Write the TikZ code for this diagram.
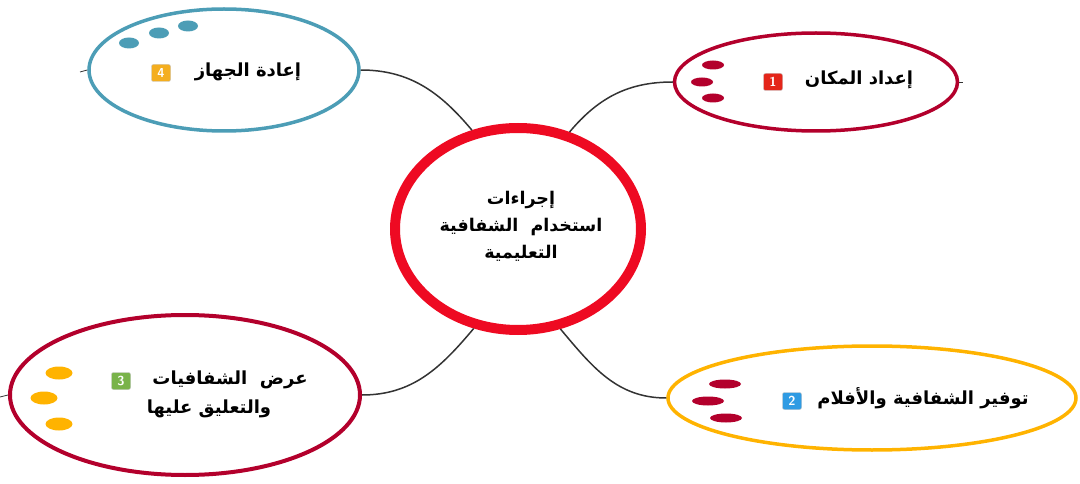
\documentclass[tikz,border=0pt]{standalone}
\usepackage{fontspec}
\usetikzlibrary{shapes.geometric}
\TeXXeTstate=1
\newfontfamily\arabicfont[Script=Arabic]{DejaVu Sans}
\definecolor{cred}{HTML}{EE0A22}
\definecolor{dred}{HTML}{B3002C}
\definecolor{cblue}{HTML}{4C9DB6}
\definecolor{corange}{HTML}{FFB300}
\definecolor{iconred}{HTML}{E4261A}
\definecolor{iconblue}{HTML}{2F9BE3}
\definecolor{icongreen}{HTML}{79B34A}
\definecolor{iconorange}{HTML}{F4AE1F}
\tikzset{
  topic/.style={ellipse, inner sep=0pt, fill=white},
  lbl/.style={font=\arabicfont\bfseries\fontsize{18}{22}\selectfont, inner sep=0pt, text=black},
  clbl/.style={font=\arabicfont\bfseries\fontsize{17.5}{27}\selectfont, inner sep=0pt, align=center, text=black},
  icon/.style={rounded corners=2pt, minimum width=19pt, minimum height=17pt, inner sep=0pt,
    text=white, font=\sffamily\bfseries\fontsize{13}{13}\selectfont, draw=black!25, line width=0.4pt},
  conn/.style={draw=black!80, line width=1.5pt},
}
\begin{document}
\begin{tikzpicture}[x=1pt,y=1pt]
\useasboundingbox (0,0) rectangle (1080,-484);
% central
\node[topic, draw=cred, line width=10pt, minimum width=246pt, minimum height=202pt] (c) at (518,-229) {};
\node[clbl] (tc) at (521,-226) {\beginR إجراءات\endR\\\beginR استخدام~ الشفافية\endR\\\beginR التعليمية\endR};
% topics
\node[topic, draw=dred, line width=3.5pt, minimum width=283pt, minimum height=98pt] (e1) at (816,-82) {};
\node[topic, draw=corange, line width=3.5pt, minimum width=408pt, minimum height=104pt] (e2) at (872,-398) {};
\node[topic, draw=dred, line width=4pt, minimum width=350pt, minimum height=160pt] (e3) at (185,-395) {};
\node[topic, draw=cblue, line width=3.5pt, minimum width=270pt, minimum height=122pt] (e4) at (224,-70) {};
% connectors
\draw[conn] (c.115) to[out=130,in=0] (e4.east);
\draw[conn] (c.62) to[out=50,in=180] (e1.west);
\draw[conn] (c.246) to[out=230,in=0] (e3.east);
\draw[conn] (c.293) to[out=310,in=180] (e2.west);
\coordinate (s4) at (80,-72);
\coordinate (s1) at (963,-82);
\coordinate (s3) at (0,-397);
\draw[conn, line width=0.8pt] (e4.west) -- (s4);
\draw[conn, line width=0.8pt] (e1.east) -- (s1);
\draw[conn, line width=0.8pt] (e3.west) -- (s3);
% dots
\fill[cblue] (129,-43) ellipse (10 and 5.5);
\fill[cblue] (159,-33) ellipse (10 and 5.5);
\fill[cblue] (188,-26) ellipse (10 and 5.5);
\fill[dred] (713,-65) ellipse (11 and 4.5);
\fill[dred] (702,-82) ellipse (11 and 4.5);
\fill[dred] (713,-98) ellipse (11 and 4.5);
\fill[dred] (725,-384) ellipse (16 and 4.5);
\fill[dred] (708,-401) ellipse (16 and 4.5);
\fill[dred] (726,-418) ellipse (16 and 4.5);
\fill[corange] (59,-373) ellipse (13.5 and 6.5);
\fill[corange] (44,-398) ellipse (13.5 and 6.5);
\fill[corange] (59,-424) ellipse (13.5 and 6.5);
% labels
\node[lbl] (t1) at (859,-80) {\beginR إعداد المكان\endR};
\node[icon, fill=iconred] (i1) at (773,-82) {1};
\node[lbl] (t2) at (923,-398) {\beginR توفير الشفافية والأفلام\endR};
\node[icon, fill=iconblue] (i2) at (792,-401) {2};
\node[lbl] (t3a) at (230,-380) {\beginR عرض~ الشفافيات\endR};
\node[lbl] (t3b) at (209,-409) {\beginR والتعليق عليها\endR};
\node[icon, fill=icongreen] (i3) at (121,-381) {3};
\node[lbl] (t4) at (248,-72) {\beginR إعادة الجهاز\endR};
\node[icon, fill=iconorange] (i4) at (161,-73) {4};
\end{tikzpicture}
\end{document}
